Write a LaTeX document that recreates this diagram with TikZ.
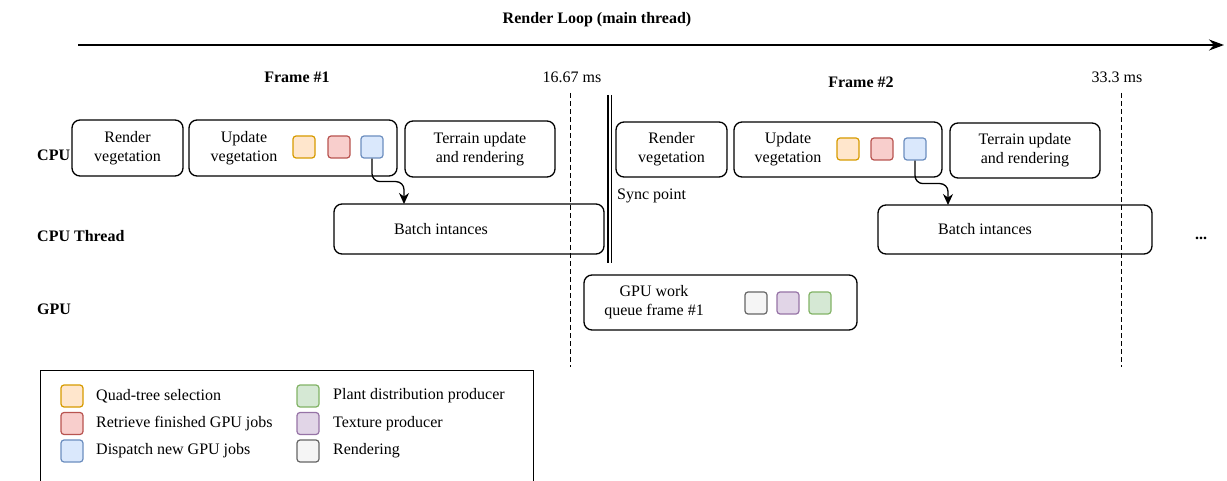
\documentclass[tikz,border=0pt]{standalone}
\usepackage{fontspec}
\setmainfont{Liberation Serif}
\usetikzlibrary{arrows.meta}
\definecolor{oFill}{HTML}{FFE6CC}\definecolor{oLine}{HTML}{D79B00}
\definecolor{rFill}{HTML}{F8CECC}\definecolor{rLine}{HTML}{B85450}
\definecolor{bFill}{HTML}{DAE8FC}\definecolor{bLine}{HTML}{6C8EBF}
\definecolor{gFill}{HTML}{D5E8D4}\definecolor{gLine}{HTML}{82B366}
\definecolor{pFill}{HTML}{E1D5E7}\definecolor{pLine}{HTML}{9673A6}
\definecolor{nFill}{HTML}{F5F5F5}\definecolor{nLine}{HTML}{666666}
\tikzset{
  every node/.style={font=\fontsize{16}{19}\selectfont},
  box/.style={draw, rounded corners=8pt, line width=1.3pt, inner sep=0pt},
  txt/.style={align=center, inner sep=0pt},
  bold/.style={font=\fontsize{16}{19}\selectfont\bfseries, inner sep=0pt},
  sq/.style={draw, rounded corners=3pt, minimum size=22pt, line width=1.2pt, inner sep=0pt},
  sqo/.style={sq, fill=oFill, draw=oLine},
  sqr/.style={sq, fill=rFill, draw=rLine},
  sqb/.style={sq, fill=bFill, draw=bLine},
  sqg/.style={sq, fill=gFill, draw=gLine},
  sqp/.style={sq, fill=pFill, draw=pLine},
  sqn/.style={sq, fill=nFill, draw=nLine},
  conn/.style={line width=1.3pt, rounded corners=8pt, -{Stealth[length=11pt,width=10pt]}},
  timeline/.style={dashed, dash pattern=on 5pt off 3pt, line width=1pt},
  legtxt/.style={anchor=west, inner sep=0pt}
}
\begin{document}
\begin{tikzpicture}[x=1pt,y=-1pt]
\useasboundingbox (0,0) rectangle (1227,481);

% title and main arrow
\node[bold] (title) at (597,20) {Render Loop (main thread)};
\coordinate (ls) at (78,45);
\coordinate (le) at (1224,45);
\draw[line width=1.5pt, -{Stealth[length=15pt,width=11pt]}] (ls) -- (le);

% frame labels
\node[bold] (f1) at (297,77) {Frame \#1};
\node[bold] (f2) at (861,82) {Frame \#2};
\node[inner sep=0pt] (t1) at (572,77) {16.67 ms};
\node[inner sep=0pt] (t2) at (1117,77) {33.3 ms};

% timeline dashed lines
\coordinate (d1a) at (570,93); \coordinate (d1b) at (570,367);
\coordinate (d2a) at (1121,93); \coordinate (d2b) at (1121,367);
\draw[timeline] (d1a) -- (d1b);
\draw[timeline] (d2a) -- (d2b);

% sync point double line
\coordinate (s1a) at (608,95); \coordinate (s1b) at (608,263);
\coordinate (s2a) at (611.5,95); \coordinate (s2b) at (611.5,263);
\draw[line width=1.3pt] (s1a) -- (s1b);
\draw[line width=1.3pt] (s2a) -- (s2b);
\node[anchor=west, inner sep=0pt] (sync) at (617,196) {Sync point};

% row labels
\node[bold, anchor=west] (rcpu) at (37,155) {CPU};
\node[bold, anchor=west] (rthr) at (37,236) {CPU Thread};
\node[bold, anchor=west] (rgpu) at (37,309) {GPU};

% frame 1
\node[box, minimum width=111pt, minimum height=56pt] (rv1) at (127.5,148) {};
\node[txt] (rv1t) at (rv1) {Render\\vegetation};
\node[box, minimum width=208pt, minimum height=56pt] (uv1) at (293,148) {};
\node[txt] (uv1t) at (244,148) {Update\\vegetation};
\node[sqo] (o1) at (304,147) {};
\node[sqr] (r1) at (339,147) {};
\node[sqb] (b1) at (372,147) {};
\node[box, minimum width=150pt, minimum height=56pt] (tu1) at (480,149) {};
\node[txt] (tu1t) at (tu1) {Terrain update\\and rendering};
\node[box, minimum width=270pt, minimum height=50pt] (ba1) at (469,229) {};
\node[txt] (ba1t) at (441,229) {Batch intances};
\coordinate (a1) at (404,204);
\draw[conn] (b1.south) -- ++(0,23) -| (a1);

% frame 2
\node[box, minimum width=111pt, minimum height=55pt] (rv2) at (671.5,149.5) {};
\node[txt] (rv2t) at (rv2) {Render\\vegetation};
\node[box, minimum width=208pt, minimum height=55pt] (uv2) at (838,149.5) {};
\node[txt] (uv2t) at (788,149.5) {Update\\vegetation};
\node[sqo] (o2) at (848,149) {};
\node[sqr] (r2) at (882,149) {};
\node[sqb] (b2) at (915,149) {};
\node[box, minimum width=150pt, minimum height=55pt] (tu2) at (1025,150.5) {};
\node[txt] (tu2t) at (tu2) {Terrain update\\and rendering};
\node[box, minimum width=274pt, minimum height=49pt] (ba2) at (1015,229.5) {};
\node[txt] (ba2t) at (985,229.5) {Batch intances};
\coordinate (a2) at (948,205);
\draw[conn] (b2.south) -- ++(0,23) -| (a2);
\node[bold] (dots) at (1201,238) {...};

% GPU
\node[box, minimum width=273pt, minimum height=55pt] (gq) at (720.5,302.5) {};
\node[txt] (gqt) at (654,302) {GPU work\\queue frame \#1};
\node[sqn] (n1) at (756,303) {};
\node[sqp] (p1) at (788,303) {};
\node[sqg] (g1) at (820,303) {};

% legend
\coordinate (lg1) at (40,484); \coordinate (lg2) at (40,370);
\coordinate (lg3) at (533,370); \coordinate (lg4) at (533,484);
\draw[line width=1pt] (lg1) -- (lg2) -- (lg3) -- (lg4);
\node[sqo] (lo) at (72,396) {};
\node[sqr] (lr) at (72,423.5) {};
\node[sqb] (lb) at (72,451) {};
\node[sqg] (lgr) at (308,396) {};
\node[sqp] (lp) at (308,423.5) {};
\node[sqn] (ln) at (308,451) {};
\node[legtxt] at (96,396) {Quad-tree selection};
\node[legtxt] at (96,423.5) {Retrieve finished GPU jobs};
\node[legtxt] at (96,451) {Dispatch new GPU jobs};
\node[legtxt] at (333,396) {Plant distribution producer};
\node[legtxt] at (333,423.5) {Texture producer};
\node[legtxt] at (333,451) {Rendering};
\end{tikzpicture}
\end{document}
